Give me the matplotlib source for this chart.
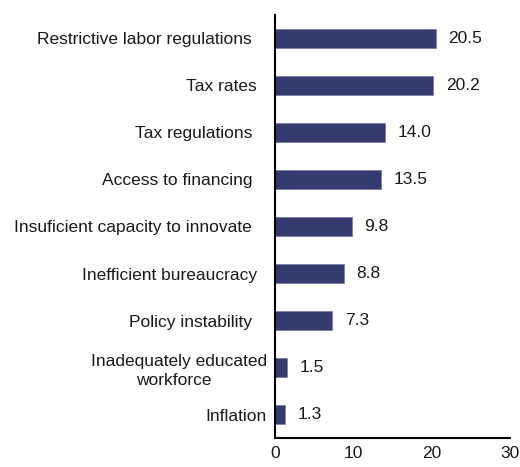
import matplotlib
matplotlib.use("Agg")
import matplotlib.pyplot as plt

# top to bottom as in the chart (trailing spaces kept as in source labels)
categories = [
    "Restrictive labor regulations   ",
    "Tax rates  ",
    "Tax regulations   ",
    "Access to financing   ",
    "Insuficient capacity to innovate   ",
    "Inefficient bureaucracy  ",
    "Policy instability   ",
    "Inadequately educated\nworkforce  ",
    "Inflation",
]
values = [20.5, 20.2, 14.0, 13.5, 9.8, 8.8, 7.3, 1.5, 1.3]
xticks = [0, 10, 20, 30]

plt.rcParams["font.family"] = ["Liberation Sans", "DejaVu Sans"]
plt.rcParams["font.size"] = 12.5

fig = plt.figure(figsize=(5.2, 4.67), dpi=100)
ax = fig.add_axes([0.529, 0.062, 0.452, 0.906])

cats = categories[::-1]
vals = values[::-1]
ypos = range(len(cats))

bars = ax.barh(ypos, vals, height=0.4, color="#353a6e", edgecolor="#6a6f9a", linewidth=0.4)

for y, v in zip(ypos, vals):
    ax.annotate(f"{v:.1f}", (v, y), xytext=(9, 0), textcoords="offset points",
                va="center", ha="left", color="#1a1a1a")

ax.set_yticks(list(ypos))
ax.set_yticklabels(cats, multialignment="center", linespacing=1.35, color="#1a1a1a")
ax.set_xticks(xticks)
ax.set_xlim(0, 30)
ax.set_ylim(-0.5, 8.5)
ax.tick_params(axis="both", length=0, colors="#1a1a1a")
ax.tick_params(axis="y", pad=6)
ax.tick_params(axis="x", pad=6)

ax.spines["top"].set_visible(False)
ax.spines["right"].set_visible(False)
ax.spines["left"].set_linewidth(1.5)
ax.spines["bottom"].set_linewidth(1.5)

fig.savefig("out.png", dpi=100)
